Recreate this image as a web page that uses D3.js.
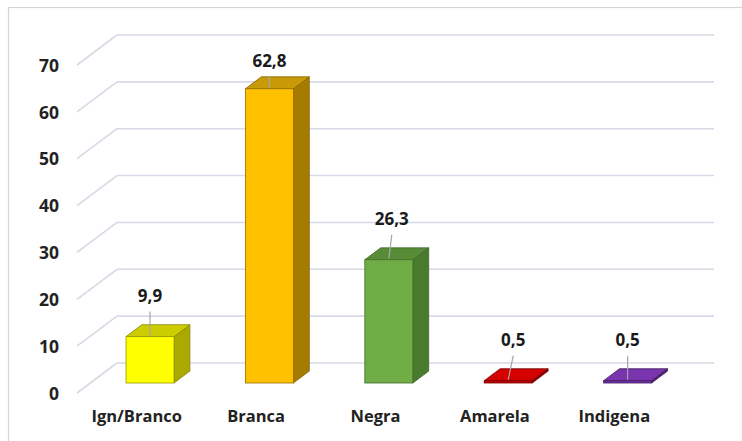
<!DOCTYPE html>
<html>
<head>
<meta charset="utf-8">
<script src="https://cdn.jsdelivr.net/npm/d3@7"></script>
<style>
  html, body { margin: 0; padding: 0; background: #fff; }
  svg { display: block; font-family: "Open Sans", sans-serif; }
</style>
</head>
<body>
<svg id="chart"></svg>
<script>
// --------------------
// Data
// --------------------
const categories = ["Ign/Branco", "Branca", "Negra", "Amarela", "Indigena"];
const values = [9.9, 62.8, 26.3, 0.5, 0.5];
const valueLabels = ["9,9", "62,8", "26,3", "0,5", "0,5"];
const yTicks = [0, 10, 20, 30, 40, 50, 60, 70];

// front / side / top colours for each bar
const frontColors = ["#ffff00", "#ffc000", "#70ad47", "#c00000", "#7030a0"];
const sideColors  = ["#a9a900", "#a67c00", "#4a7a2e", "#8a0000", "#4d1f70"];
const topColors   = ["#cccc00", "#c99a08", "#588c37", "#d40000", "#7a34ad"];

// --------------------
// Basic setup
// --------------------
const width = 742;
const height = 441;

const svg = d3.select("#chart")
  .attr("width", width)
  .attr("height", height);

// chart frame (runs off the right / bottom edges)
svg.append("rect")
  .attr("x", 8.5).attr("y", 7.5)
  .attr("width", 800).attr("height", 500)
  .attr("fill", "none")
  .attr("stroke", "#d4d4d4")
  .attr("stroke-width", 1.2);

// back wall scales
const x = d3.scaleBand()
  .domain(categories)
  .range([117, 714]);

const y = d3.scaleLinear()
  .domain([0, 70])
  .range([363, 35]);

// depth of the floor: back wall -> front plane
const depthX = -40, depthY = 30;
const barFront = 0.667;   // fraction of depth where bar front face sits
const barBack = 0.27;     // fraction of depth where bar back face sits
const barW = 48;

// --------------------
// Gridlines (back wall + side diagonals)
// --------------------
const grid = svg.append("g");
grid.selectAll("line.h")
  .data(yTicks)
  .join("line")
    .attr("class", "h")
    .attr("x1", 117).attr("x2", 714)
    .attr("y1", d => y(d)).attr("y2", d => y(d))
    .attr("stroke", "#d6dae6")
    .attr("stroke-width", 1.6);

grid.selectAll("line.d")
  .data(yTicks)
  .join("line")
    .attr("class", "d")
    .attr("x1", 117).attr("y1", d => y(d))
    .attr("x2", 117 + depthX).attr("y2", d => y(d) + depthY)
    .attr("stroke", "#d6dae6")
    .attr("stroke-width", 1.6);

// y tick labels on the front plane
svg.append("g")
  .selectAll("text")
  .data(yTicks)
  .join("text")
    .attr("x", 59)
    .attr("y", d => y(d) + depthY + 2)
    .attr("text-anchor", "end")
    .attr("dominant-baseline", "middle")
    .attr("font-size", 17.5)
    .attr("font-weight", 700)
    .attr("fill", "#222")
    .text(d => d);

// --------------------
// Bars
// --------------------
const bx = depthX * (barBack - barFront);   // bar depth shift (positive)
const by = depthY * (barBack - barFront);   // (negative)

const bars = categories.map((c, i) => {
  const xf = x(c) + x.bandwidth() / 2 - barW / 2 + depthX * barFront;
  const yBase = y(0) + depthY * barFront;
  const yTop = y(values[i]) + depthY * barFront;
  return { c, i, xf, yBase, yTop };
});

const gBars = svg.append("g");
bars.forEach(b => {
  const g = gBars.append("g");
  const edge = d3.color(sideColors[b.i]).darker(0.6);
  // side
  g.append("polygon")
    .attr("points", [
      [b.xf + barW, b.yBase], [b.xf + barW + bx, b.yBase + by],
      [b.xf + barW + bx, b.yTop + by], [b.xf + barW, b.yTop]
    ].join(" "))
    .attr("fill", sideColors[b.i])
    .attr("stroke", edge)
    .attr("stroke-width", 0.8);
  // top
  g.append("polygon")
    .attr("points", [
      [b.xf, b.yTop], [b.xf + bx, b.yTop + by],
      [b.xf + barW + bx, b.yTop + by], [b.xf + barW, b.yTop]
    ].join(" "))
    .attr("fill", topColors[b.i])
    .attr("stroke", edge)
    .attr("stroke-width", 0.8);
  // front
  g.append("rect")
    .attr("x", b.xf).attr("y", b.yTop)
    .attr("width", barW).attr("height", Math.max(0, b.yBase - b.yTop))
    .attr("fill", frontColors[b.i])
    .attr("stroke", d3.color(sideColors[b.i]).darker(0.3))
    .attr("stroke-width", 0.8);
});

// --------------------
// Value labels with leader lines
// --------------------
bars.forEach(b => {
  const cx = b.xf + barW / 2;
  const shift = b.i === 2 ? 3 : b.i === 3 ? 5 : 0;
  const ly = Math.max(b.yTop - 39, 62);
  svg.append("line")
    .attr("x1", cx + shift).attr("y1", ly + 14)
    .attr("x2", cx).attr("y2", b.yTop - 1)
    .attr("stroke", "#a6a6a6")
    .attr("stroke-width", 1.2);
  svg.append("text")
    .attr("x", cx + shift)
    .attr("y", ly)
    .attr("text-anchor", "middle")
    .attr("dominant-baseline", "middle")
    .attr("font-size", 17)
    .attr("font-weight", 700)
    .attr("fill", "#1a1a1a")
    .text(valueLabels[b.i]);
});

// --------------------
// Category labels on the front edge of the floor
// --------------------
svg.append("g")
  .selectAll("text")
  .data(categories)
  .join("text")
    .attr("x", d => x(d) + x.bandwidth() / 2 + depthX)
    .attr("y", 418)
    .attr("text-anchor", "middle")
    .attr("dominant-baseline", "middle")
    .attr("font-size", 16.5)
    .attr("font-weight", 700)
    .attr("fill", "#222")
    .text(d => d);
</script>
</body>
</html>
